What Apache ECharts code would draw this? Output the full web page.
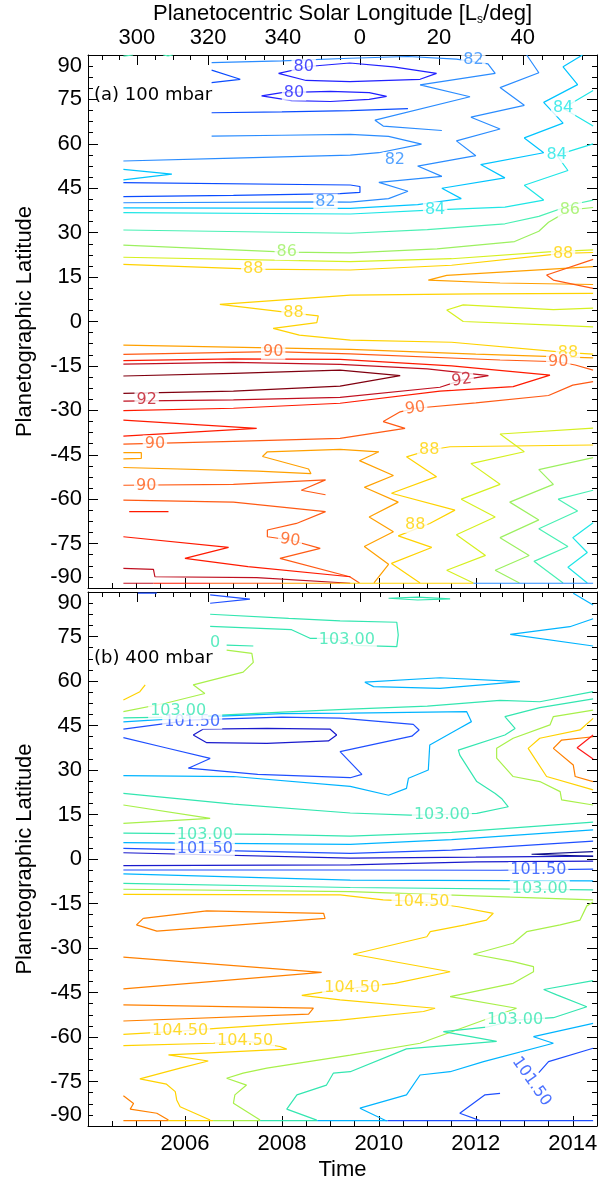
<!DOCTYPE html>
<html><head><meta charset="utf-8">
<script src="https://cdn.jsdelivr.net/npm/echarts@6/dist/echarts.min.js"></script>
<style>html,body{margin:0;padding:0;background:#fff}#c{width:612px;height:1182px}</style>
</head><body><div id="c"></div>
<script>
// ---------- axis tick data ----------
const lsLabels = ['300','320','340','0','20','40'];
const lsMajorYears = [2005.01, 2006.48, 2008.02, 2009.61, 2011.24, 2012.97];
const lsMinorYears = [2004.29, 2004.65, 2005.38, 2005.75, 2006.11, 2006.87, 2007.25, 2007.64, 2008.42, 2008.82, 2009.21, 2010.02, 2010.42, 2010.83, 2011.67, 2012.10, 2012.54, 2013.38, 2013.80, 2014.20];
const latTicks = [-90, 90, 15];

// ---------- contour levels / colours ----------
const topLevels = [80,81,82,83,84,85,86,87,88,89,90,91,92,93];
const topColors = ['#2020ff','#0a4cff','#2a8cff','#00c4ff','#1ee6e6','#4af0b4','#9cf060','#d6f020','#ffd200','#ffa000','#ff5a14','#ff1a00','#c01020','#800010'];
const botLevels = [100.0,100.75,101.5,102.25,103.0,103.75,104.5,105.25,106.0];
const botColors = ['#10108a','#1a1acc','#1f4fff','#00b4ff','#33e6b0','#a8f04a','#ffd200','#ff8000','#ff1a1a'];

// ---------- panel (a) 100 mbar contours [year, latitude] ----------
const a85_t1 = [[2004.73,89.6],[2004.93,90.0]];
const a85_t2 = [[2005.55,90.0],[2005.65,89.7],[2005.75,90.0]];
const a82_1 = [[2006.55,87.4],[2008.0,88.0],[2009.4,88.9],[2010.6,89.5],[2011.6,88.6],[2012.25,87.0],[2012.4,83.8],[2010.85,79.9],[2011.88,75.9],[2009.92,68.0],[2010.09,66.0],[2011.3,64.5]];
const a80_1 = [[2007.93,83.8],[2008.6,86.2],[2009.4,87.3],[2010.3,86.0],[2011.19,83.8],[2010.85,81.8],[2009.4,81.0],[2008.5,81.4],[2007.93,83.8]];
const a80_2 = [[2007.58,76.2],[2008.0,77.3],[2009.0,77.7],[2009.8,77.3],[2010.16,76.0],[2009.8,75.0],[2009.0,74.3],[2008.2,74.6],[2007.58,76.2]];
const a81_v = [[2006.55,84.9],[2007.14,81.8],[2006.55,80.7]];
const a81_1 = [[2006.55,70.5],[2008.0,70.8],[2009.41,71.2],[2010.6,71.9]];
const a82_2 = [[2006.55,62.6],[2008.0,62.9],[2009.41,63.2],[2010.2,62.5],[2010.88,59.9],[2010.0,57.0],[2009.41,56.2],[2007.0,55.2],[2004.73,54.2]];
const a83_v = [[2004.73,51.4],[2005.73,49.8],[2004.73,47.8]];
const a81_2 = [[2004.73,46.9],[2009.41,46.1],[2009.61,45.6],[2009.61,43.6],[2009.2,43.2],[2007.0,42.6],[2004.73,42.2]];
const a82_3 = [[2004.73,40.1],[2008.9,40.4],[2009.41,40.3],[2010.2,41.5],[2010.6,44.0],[2010.0,47.0],[2011.3,49.0],[2010.8,52.5],[2012.0,56.0],[2011.6,61.0],[2012.5,65.0],[2011.9,69.0],[2013.0,73.0],[2012.5,79.0],[2013.3,84.0],[2013.05,90.0]];
const a83_1 = [[2004.73,38.4],[2009.41,38.2],[2010.8,39.5],[2011.7,41.5],[2011.3,45.0],[2012.6,48.5],[2012.1,53.0],[2013.4,57.0],[2013.0,62.0],[2013.8,67.0],[2013.4,74.0],[2014.1,80.0],[2013.8,86.0],[2014.2,90.0]];
const a84_1 = [[2004.73,36.8],[2009.41,36.3],[2011.16,37.7],[2012.6,38.6],[2013.4,41.0],[2013.0,46.0],[2013.9,51.0],[2013.67,56.2],[2014.42,60.0]];
const a84_2 = [[2014.42,66.0],[2013.8,72.0],[2014.42,78.0]];
const a85_1 = [[2004.73,30.9],[2009.41,29.8],[2011.0,31.0],[2012.6,33.0],[2013.3,35.5],[2014.0,39.5],[2014.42,41.0]];
const a86_1 = [[2004.73,25.8],[2008.1,23.4],[2009.41,23.2],[2011.2,24.5],[2012.8,27.0],[2013.3,30.5],[2013.5,33.5],[2013.94,37.7],[2014.42,38.5]];
const a87_1 = [[2004.73,21.7],[2009.41,20.2],[2011.5,21.2],[2013.5,23.5],[2014.42,24.2]];
const a88_1 = [[2004.73,19.3],[2007.41,17.7],[2009.41,17.4],[2011.5,19.0],[2013.8,23.0],[2014.42,23.3]];
const a89_1 = [[2014.42,18.5],[2011.4,15.6],[2011.02,14.0],[2012.5,13.0],[2014.42,12.5]];
const a90_1 = [[2014.42,21.0],[2013.46,15.7],[2013.6,14.0],[2014.42,11.2]];
const a88_2 = [[2014.42,9.5],[2012.0,9.3],[2009.41,8.9],[2006.72,5.8],[2008.24,2.8],[2008.75,1.9],[2008.72,-0.4],[2007.82,-2.3],[2008.36,-4.6],[2009.41,-6.3],[2011.5,-7.0],[2013.9,-10.5],[2014.42,-11.0]];
const a87_2 = [[2014.42,4.5],[2013.6,4.0],[2011.74,5.6],[2011.4,3.9],[2011.74,0.0],[2013.6,-1.2],[2014.42,-1.8]];
const a89_2 = [[2004.73,-8.0],[2009.41,-9.4],[2012.0,-11.0],[2014.42,-12.3]];
const a90_2 = [[2004.73,-11.1],[2007.82,-10.2],[2009.41,-10.9],[2012.5,-13.0],[2013.7,-13.6],[2014.05,-14.7],[2014.42,-16.4]];
const a91_1 = [[2004.73,-13.2],[2007.0,-12.6],[2009.2,-12.8],[2011.5,-15.0],[2013.53,-18.1],[2012.77,-22.0],[2011.26,-23.5],[2009.2,-27.6],[2007.0,-29.3],[2004.73,-30.1]];
const a92_1 = [[2004.73,-14.4],[2007.0,-13.8],[2009.2,-14.5],[2011.0,-16.0],[2012.26,-18.3],[2011.71,-19.8],[2011.26,-22.2],[2009.2,-25.6],[2007.0,-26.5],[2004.73,-26.9]];
const a93_1 = [[2004.73,-18.4],[2007.0,-17.5],[2009.2,-16.4],[2010.44,-18.3],[2009.2,-21.8],[2007.0,-23.5],[2004.73,-24.3]];
const a90_3 = [[2004.73,-41.4],[2007.0,-40.5],[2009.2,-39.5],[2010.54,-36.1],[2010.09,-33.8],[2010.44,-30.5],[2010.75,-29.3],[2012.0,-27.5],[2013.5,-25.0],[2014.0,-21.5],[2014.42,-20.3]];
const a91_v = [[2004.73,-33.3],[2007.48,-36.1],[2004.73,-38.7]];
const a89_v = [[2004.73,-44.3],[2005.1,-44.3],[2005.1,-46.2],[2004.73,-46.4]];
const a89_3 = [[2004.73,-49.3],[2007.5,-50.5],[2008.6,-51.4],[2008.55,-49.8],[2007.6,-45.6],[2007.7,-44.0],[2009.2,-43.2],[2010.0,-44.0],[2009.6,-47.0],[2010.3,-52.0],[2009.7,-56.0],[2010.4,-61.0],[2009.8,-66.0],[2010.3,-71.0],[2009.7,-76.0],[2010.2,-82.0],[2009.9,-88.3]];
const a90_4 = [[2004.73,-55.3],[2007.0,-55.0],[2008.9,-53.5],[2008.4,-57.0],[2008.9,-58.5]];
const a90_5 = [[2004.73,-60.3],[2007.0,-61.0],[2008.9,-64.2],[2008.3,-68.2],[2007.7,-70.4],[2007.7,-72.7],[2008.17,-73.8],[2008.79,-76.6],[2007.96,-80.0],[2009.4,-86.2],[2009.6,-88.3]];
const a91_2 = [[2004.85,-64.2],[2005.66,-64.2]];
const a91_3 = [[2004.73,-72.7],[2006.9,-76.3],[2006.0,-80.0],[2007.3,-82.8],[2009.41,-86.2]];
const a92_2 = [[2004.73,-83.4],[2005.35,-83.7],[2005.38,-86.2],[2007.48,-86.5],[2009.41,-88.4]];
const a88_3 = [[2014.42,-41.7],[2011.47,-42.3],[2011.04,-43.4],[2010.57,-45.7],[2011.19,-52.4],[2010.26,-58.0],[2011.57,-63.7],[2011.05,-68.2],[2010.4,-72.4],[2011.09,-76.3],[2010.26,-81.7],[2010.85,-88.3]];
const a87_3 = [[2014.42,-36.0],[2012.5,-38.0],[2013.0,-44.0],[2011.9,-48.0],[2012.5,-55.0],[2011.7,-60.0],[2012.4,-66.0],[2011.6,-72.0],[2012.2,-79.0],[2011.4,-84.0],[2011.95,-88.3]];
const a86_3 = [[2014.42,-46.0],[2013.3,-50.0],[2013.6,-55.0],[2012.7,-61.0],[2013.3,-67.0],[2012.5,-73.0],[2013.1,-79.0],[2012.4,-84.0],[2012.9,-88.3]];
const a85_3 = [[2014.42,-57.0],[2013.7,-60.0],[2014.1,-64.0],[2013.3,-70.0],[2013.9,-76.0],[2013.2,-81.0],[2013.8,-88.3]];
const a84_3 = [[2014.42,-68.0],[2014.0,-73.0],[2014.3,-78.0],[2013.9,-83.0],[2014.3,-88.3]];
// southern data edge of panel (a), drawn in pieces of the colour of the contours that meet it
const aBase92 = [[2004.73,-88.4],[2005.35,-88.4]];
const aBase91 = [[2005.35,-88.4],[2006.5,-88.4]];
const aBase90 = [[2006.5,-88.4],[2008.0,-88.4]];
const aBase89 = [[2008.0,-88.4],[2009.2,-88.4]];
const aBase88 = [[2009.2,-88.4],[2011.95,-88.4]];
const aBase82 = [[2011.95,-88.4],[2014.42,-88.4]];

// labels of panel (a): [year, lat, text, level, rotation]
const aLabels = [
 [2008.45,86.1,'80',80,0],[2008.25,77.3,'80',80,0],[2011.95,88.3,'82',82,0],[2010.33,54.5,'82',82,0],[2008.9,40.5,'82',82,0],
 [2011.16,37.7,'84',84,0],[2013.67,56.2,'84',84,0],[2013.8,72.0,'84',84,0],[2008.1,23.4,'86',86,0],[2013.94,37.7,'86',86,0],
 [2007.41,17.7,'88',88,0],[2013.8,23.0,'88',88,0],[2008.24,2.8,'88',88,0],[2013.9,-10.5,'88',88,0],[2011.04,-43.4,'88',88,0],[2010.75,-68.7,'88',88,0],
 [2007.82,-10.2,'90',90,0],[2013.7,-13.6,'90',90,0],[2005.38,-41.2,'90',90,0],[2010.75,-29.3,'90',90,8],[2005.2,-55.4,'90',90,0],[2008.17,-73.8,'90',90,-8],
 [2005.21,-26.5,'92',92,0],[2011.71,-19.8,'92',92,8]
];

// ---------- panel (b) 400 mbar contours ----------
const b1015_t = [[2005.03,89.6],[2005.42,89.6]];
const b1015_v = [[2006.52,89.0],[2007.34,87.6],[2006.52,86.2]];
const b103_top = [[2010.2,87.9],[2010.8,88.3],[2011.47,87.7],[2010.8,87.3],[2010.2,87.9]];
const b103_n1 = [[2006.52,82.5],[2008.14,81.1],[2009.2,80.3],[2010.37,79.8],[2010.4,75.5],[2010.37,71.6],[2009.5,72.0],[2009.06,74.4],[2008.58,74.4],[2008.2,77.3],[2006.52,78.4]];
const b103_f = [[2006.86,72.1],[2007.41,71.8]];
const b1022_r1 = [[2014.01,89.6],[2014.42,85.6]];
const b1022_r2 = [[2014.42,81.0],[2013.94,78.3],[2012.71,75.7],[2014.42,71.8]];
const b1022_loop = [[2009.71,59.6],[2009.89,58.1],[2011.26,57.5],[2012.91,59.8],[2011.26,61.1],[2009.71,59.6]];
const b1045_y = [[2004.73,53.6],[2005.07,56.4],[2005.18,58.7]];
const b1037_n = [[2004.73,49.7],[2005.6,52.5],[2006.41,55.8],[2006.17,58.7],[2007.2,63.0],[2007.41,66.3],[2007.38,69.3],[2006.86,70.4]];
const b103_n2 = [[2004.73,47.6],[2006.0,47.9],[2008.0,49.5],[2009.41,50.5],[2011.0,51.5],[2012.5,53.5],[2013.32,53.0],[2014.42,56.4]];
const b103_n3 = [[2014.42,54.0],[2013.32,51.0],[2012.6,48.0],[2012.81,44.0],[2012.6,41.8],[2011.64,36.7],[2011.67,35.0],[2012.02,26.1],[2012.4,22.1],[2012.53,20.4],[2012.67,17.6],[2012.02,15.4],[2011.3,15.0],[2010.64,14.8],[2009.41,15.5],[2007.0,18.5],[2004.73,22.1]];
const b1022_1 = [[2004.73,46.2],[2006.5,48.0],[2008.0,49.0],[2009.41,49.2],[2011.81,49.7],[2011.91,46.3],[2011.6,43.5],[2011.05,38.4],[2011.02,30.0],[2010.61,27.2],[2010.57,23.8],[2010.2,21.5],[2009.41,24.5],[2007.0,27.8],[2004.73,28.1]];
const b1015_1 = [[2004.73,43.8],[2006.17,46.9],[2008.0,47.8],[2009.2,47.5],[2010.71,45.4],[2010.83,43.5],[2010.68,41.4],[2009.2,36.2],[2009.65,28.5],[2009.41,27.4],[2007.5,28.5],[2006.07,30.6],[2006.52,33.9],[2005.6,37.5],[2004.73,40.9]];
const b10075_1 = [[2006.17,41.8],[2006.38,43.8],[2007.69,44.0],[2008.99,43.8],[2009.13,41.8],[2008.96,39.8],[2007.69,39.0],[2006.45,39.2],[2006.17,41.8]];
const b1037_r = [[2014.42,50.2],[2013.6,48.0],[2013.53,45.2],[2012.77,40.7],[2012.43,37.3],[2012.43,34.0],[2012.77,27.8],[2013.32,26.1],[2013.74,22.7],[2013.77,19.9],[2014.42,18.2]];
const b1045_r = [[2014.42,47.4],[2014.15,43.5],[2013.32,40.7],[2013.08,37.3],[2013.46,27.8],[2014.42,23.3]];
const b1052_r = [[2014.42,41.2],[2013.77,40.1],[2013.6,37.3],[2014.01,31.7],[2014.05,27.8],[2014.42,26.1]];
const b106_r = [[2014.42,41.8],[2014.09,37.5],[2014.42,33.7]];
const b1037_v = [[2004.73,18.2],[2006.52,13.7],[2004.73,12.0]];
const b103_e = [[2004.73,8.7],[2007.7,8.3],[2009.41,7.7],[2011.5,9.0],[2014.42,12.4]];
const b1022_e = [[2004.73,5.5],[2009.41,4.9],[2011.5,6.5],[2014.42,9.8]];
const b1015_e = [[2004.73,3.6],[2009.41,1.9],[2011.5,3.0],[2014.42,6.0]];
const b10075_en = [[2004.73,2.1],[2009.41,0.3],[2012.0,0.6],[2014.42,1.0]];
const b100_v = [[2014.42,2.5],[2013.15,1.6],[2014.42,0.9]];
const b10075_es = [[2004.73,-2.2],[2009.41,-2.0],[2012.0,-1.0],[2014.42,-0.7]];
const b1015_es = [[2004.73,-3.7],[2009.41,-3.7],[2012.5,-3.8],[2014.42,-3.4]];
const b1022_es = [[2004.73,-5.0],[2009.41,-7.1],[2014.42,-7.4]];
const b103_es = [[2004.73,-8.2],[2009.41,-9.6],[2014.42,-10.4]];
const b1037_es = [[2004.73,-10.2],[2009.41,-11.0],[2014.42,-13.8]];
const b1045_s = [[2004.73,-11.9],[2009.2,-12.1],[2010.09,-13.8],[2010.88,-14.4],[2011.64,-16.1],[2012.36,-18.3],[2012.22,-20.6],[2011.78,-22.2],[2011.06,-24.5],[2010.99,-26.2],[2009.47,-32.1],[2011.47,-38.0],[2010.33,-41.9],[2009.72,-43.0],[2009.13,-44.1],[2008.41,-46.0],[2009.2,-47.5],[2011.16,-50.3],[2010.92,-51.4],[2009.2,-54.3],[2006.65,-57.1],[2005.9,-58.0],[2004.73,-59.1]];
const b1052_loop = [[2005.14,-20.0],[2005.0,-22.2],[2005.42,-24.3],[2008.89,-20.0],[2008.86,-18.3],[2006.45,-17.5],[2005.14,-20.0]];
const b1052_v1 = [[2004.73,-33.1],[2008.82,-38.2],[2004.73,-43.8]];
const b1052_v2 = [[2004.73,-49.2],[2008.65,-50.3],[2008.55,-52.3],[2004.73,-54.6]];
const b1045_s2 = [[2004.73,-62.9],[2006.59,-62.1],[2007.24,-61.3],[2007.96,-63.2],[2008.1,-64.1],[2005.66,-66.0],[2006.48,-68.1],[2005.9,-70.5],[2005.07,-74.1],[2005.62,-75.9],[2005.8,-78.4],[2005.83,-81.2],[2005.9,-83.5],[2006.52,-88.0]];
const b1052_s = [[2004.73,-79.8],[2004.94,-82.4],[2004.87,-84.3],[2005.42,-85.7],[2005.66,-88.0]];
const b1037_s = [[2014.42,-14.5],[2014.29,-15.8],[2014.15,-20.6],[2013.74,-22.2],[2013.05,-24.5],[2012.77,-28.4],[2011.95,-32.1],[2012.77,-34.6],[2013.19,-36.3],[2013.19,-38.0],[2012.77,-41.9],[2011.47,-46.4],[2012.84,-50.3],[2010.85,-62.1],[2009.41,-66.1],[2007.69,-70.5],[2007.2,-72.2],[2006.86,-73.9],[2007.27,-76.2],[2007.03,-79.5],[2007.0,-82.3],[2007.55,-88.0]];
const b103_s = [[2014.42,-41.0],[2013.4,-44.0],[2013.67,-45.8],[2014.29,-49.8],[2013.6,-53.5],[2012.81,-54.3],[2012.22,-56.7],[2011.33,-58.2],[2012.43,-61.5],[2010.57,-64.0],[2009.41,-71.7],[2009.06,-72.2],[2008.92,-76.2],[2008.31,-79.5],[2008.1,-84.3],[2008.72,-88.0]];
const b1022_s = [[2014.42,-55.4],[2013.19,-59.9],[2013.6,-62.1],[2012.16,-68.3],[2011.47,-71.7],[2010.85,-72.8],[2010.57,-79.5],[2009.61,-84.0],[2010.16,-88.3]];
const b1015_s1 = [[2014.42,-63.8],[2013.5,-68.3],[2013.3,-72.0]];
const b1015_s2 = [[2012.5,-79.0],[2012.19,-79.5],[2011.67,-85.7],[2012.09,-88.2]];
// southern data edge of panel (b)
const bBase1052 = [[2004.73,-88.2],[2005.65,-88.2]];
const bBase1045 = [[2005.65,-88.2],[2006.58,-88.2]];
const bBase1037 = [[2006.58,-88.2],[2007.55,-88.2]];
const bBase103 = [[2007.55,-88.2],[2008.73,-88.2]];
const bBase1022 = [[2008.73,-88.2],[2010.18,-88.2]];
const bBase1015 = [[2010.18,-88.2],[2014.42,-88.2]];

const bLabels = [
 [2006.15,46.4,'101.50',101.5,0],[2005.86,49.8,'103.00',103.0,0],[2009.34,73.8,'103.00',103.0,0],[2006.62,73.0,'0',103.0,0],
 [2011.3,15.0,'103.00',103.0,0],[2006.41,8.3,'103.00',103.0,0],[2006.41,3.3,'101.50',101.5,0],
 [2013.29,-3.7,'101.50',101.5,0],[2013.32,-9.9,'103.00',103.0,0],[2010.88,-14.4,'104.50',104.5,0],[2009.45,-43.3,'104.50',104.5,0],
 [2005.9,-58.0,'104.50',104.5,0],[2007.24,-61.3,'104.50',104.5,0],[2012.81,-54.3,'103.00',103.0,0],[2013.15,-75.0,'101.50',101.5,-55]
];

// ---------- build ----------
const topSet = [[85,a85_t1],[85,a85_t2],[82,a82_1],[80,a80_1],[80,a80_2],[81,a81_v],[81,a81_1],[82,a82_2],[83,a83_v],[81,a81_2],[82,a82_3],[83,a83_1],[84,a84_1],[84,a84_2],[85,a85_1],[86,a86_1],[87,a87_1],[88,a88_1],[89,a89_1],[90,a90_1],[88,a88_2],[87,a87_2],[89,a89_2],[90,a90_2],[91,a91_1],[92,a92_1],[93,a93_1],[90,a90_3],[91,a91_v],[89,a89_v],[89,a89_3],[90,a90_4],[90,a90_5],[91,a91_2],[91,a91_3],[92,a92_2],[88,a88_3],[87,a87_3],[86,a86_3],[85,a85_3],[84,a84_3],
  [92,aBase92],[91,aBase91],[90,aBase90],[89,aBase89],[88,aBase88],[82,aBase82]];
const botSet = [[101.5,b1015_t],[101.5,b1015_v],[103.0,b103_top],[103.0,b103_n1],[103.0,b103_f],[102.25,b1022_r1],[102.25,b1022_r2],[102.25,b1022_loop],[104.5,b1045_y],[103.75,b1037_n],[103.0,b103_n2],[103.0,b103_n3],[102.25,b1022_1],[101.5,b1015_1],[100.75,b10075_1],[103.75,b1037_r],[104.5,b1045_r],[105.25,b1052_r],[106.0,b106_r],[103.75,b1037_v],[103.0,b103_e],[102.25,b1022_e],[101.5,b1015_e],[100.75,b10075_en],[100.0,b100_v],[100.75,b10075_es],[101.5,b1015_es],[102.25,b1022_es],[103.0,b103_es],[103.75,b1037_es],[104.5,b1045_s],[105.25,b1052_loop],[105.25,b1052_v1],[105.25,b1052_v2],[104.5,b1045_s2],[105.25,b1052_s],[103.75,b1037_s],[103.0,b103_s],[102.25,b1022_s],[101.5,b1015_s1],[101.5,b1015_s2],
  [105.25,bBase1052],[104.5,bBase1045],[103.75,bBase1037],[103.0,bBase103],[102.25,bBase1022],[101.5,bBase1015]];

function colorOf(levels, colors, lv){ return colors[levels.indexOf(lv)]; }

const FONT = 'Liberation Sans';
const series = [];
function addLines(set, levels, colors, gi){
  set.forEach(([lv, pts]) => series.push({type:'line', xAxisIndex: gi*3, yAxisIndex: gi*2, data: pts, symbol:'none', showSymbol:false, silent:true, animation:false, z:2,
    lineStyle:{color: colorOf(levels, colors, lv), width:1.2}}));
}
function addLabels(lbls, levels, colors, gi){
  series.push({type:'scatter', xAxisIndex: gi*3, yAxisIndex: gi*2, symbolSize:0, silent:true, animation:false, z:5,
    data: lbls.map(l => ({value:[l[0], l[1]], name:l[2], label:{show:true, position:'inside', formatter:l[2], rotate:l[4], color: colorOf(levels, colors, l[3]), fontFamily:'DejaVu Sans', fontSize:16, backgroundColor:'#fff', padding:[0,2]}}))});
}
addLines(topSet, topLevels, topColors, 0);
addLines(botSet, botLevels, botColors, 1);
addLabels(aLabels, topLevels, topColors, 0);
addLabels(bLabels, botLevels, botColors, 1);

const grids = [{left:88, top:55, width:509, height:533}, {left:88, top:592, width:509, height:535}];
const tickStyle = {color:'#000', width:1};
const xAxes = [], yAxes = [];
[0,1].forEach(g => {
  xAxes.push({type:'value', gridIndex:g, position:'bottom', min:2004, max:2014.5, interval:2,
    axisLine:{onZero:false, lineStyle:tickStyle}, splitLine:{show:false},
    axisTick:{inside:true, length:10, lineStyle:tickStyle}, minorTick:{show:true, splitNumber:4, length:5, lineStyle:tickStyle},
    axisLabel:{show: g===1, showMinLabel:false, color:'#000', fontFamily:FONT, fontSize:22, margin:7, formatter: v => String(Math.round(v))},
    name: g===1 ? 'Time' : '', nameLocation:'middle', nameGap:33, nameTextStyle:{color:'#000', fontFamily:FONT, fontSize:22}});
  xAxes.push({type:'value', gridIndex:g, position:'top', min:2004, max:2014.5,
    axisLine:{onZero:false, lineStyle:tickStyle}, splitLine:{show:false},
    axisTick:{inside:true, length:10, lineStyle:tickStyle, customValues: lsMajorYears},
    axisLabel:{show: g===0, customValues: lsMajorYears, color:'#000', fontFamily:FONT, fontSize:22, margin:6,
      formatter: v => { let i=0, d=1e9; lsMajorYears.forEach((y,k)=>{ if(Math.abs(y-v)<d){d=Math.abs(y-v); i=k;} }); return lsLabels[i]; }},
    name: g===0 ? 'Planetocentric Solar Longitude [L{s|s}/deg]' : '', nameLocation:'middle', nameGap:27,
    nameTextStyle:{color:'#000', fontFamily:FONT, fontSize:22, rich:{s:{fontFamily:FONT, fontSize:12, padding:[12,0,0,0], color:'#000'}}}});
  xAxes.push({type:'value', gridIndex:g, position:'top', min:2004, max:2014.5,
    axisLine:{show:false, onZero:false}, splitLine:{show:false}, axisLabel:{show:false},
    axisTick:{inside:true, length:5, lineStyle:tickStyle, customValues: lsMinorYears}});
  yAxes.push({type:'value', gridIndex:g, position:'left', min:latTicks[0], max:latTicks[1], interval:latTicks[2],
    axisLine:{onZero:false, lineStyle:tickStyle}, splitLine:{show:false},
    axisTick:{inside:true, length:10, lineStyle:tickStyle}, minorTick:{show:true, splitNumber:4, length:5, lineStyle:tickStyle},
    axisLabel:{color:'#000', fontFamily:FONT, fontSize:22, margin:6, verticalAlignMinLabel:'bottom', verticalAlignMaxLabel:'top'},
    name:'Planetographic Latitude', nameLocation:'middle', nameGap:52, nameTextStyle:{color:'#000', fontFamily:FONT, fontSize:22}});
  yAxes.push({type:'value', gridIndex:g, position:'right', min:latTicks[0], max:latTicks[1], interval:latTicks[2],
    axisLine:{onZero:false, lineStyle:tickStyle}, splitLine:{show:false}, axisLabel:{show:false},
    axisTick:{inside:true, length:10, lineStyle:tickStyle}, minorTick:{show:true, splitNumber:4, length:5, lineStyle:tickStyle}});
});

const chart = echarts.init(document.getElementById('c'), null, {renderer:'canvas'});
chart.setOption({
  animation:false, backgroundColor:'#fff',
  grid: grids, xAxis: xAxes, yAxis: yAxes, series: series,
  graphic:[
    {type:'text', left:94, top:86, z:10, style:{text:'(a) 100 mbar', font:'18px "DejaVu Sans"', fill:'#000'}},
    {type:'text', left:94, top:649, z:10, style:{text:'(b) 400 mbar', font:'18px "DejaVu Sans"', fill:'#000'}}
  ]
});
</script></body></html>
